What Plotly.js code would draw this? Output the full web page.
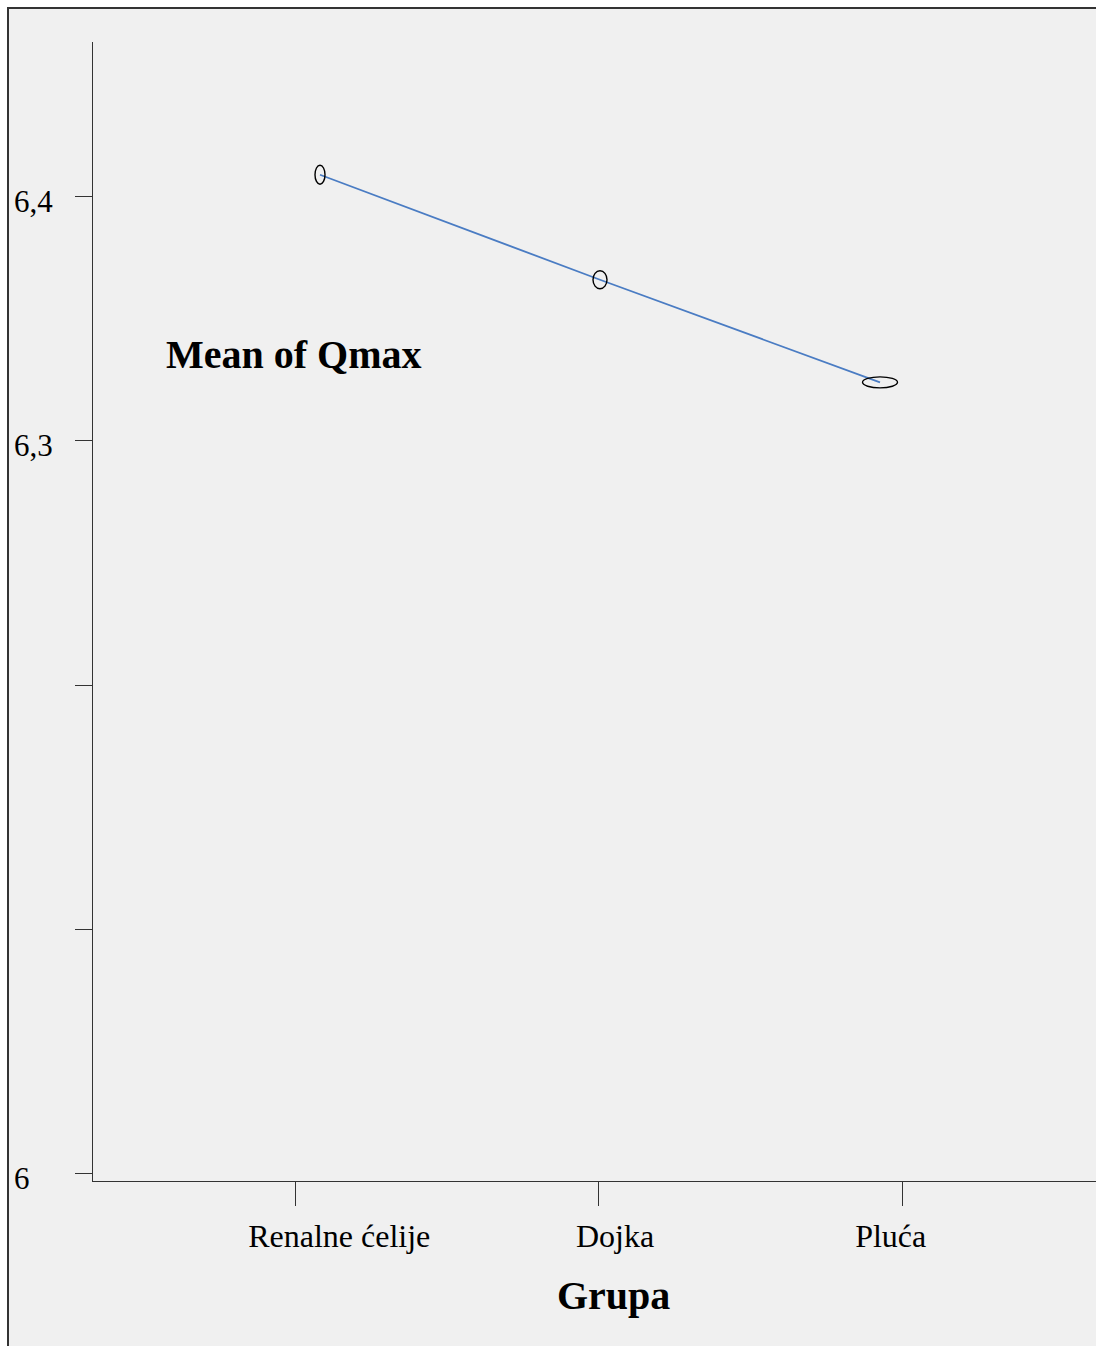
<!DOCTYPE html>
<html>
<head>
<meta charset="utf-8">
<script src="https://cdn.plot.ly/plotly-3.0.1.min.js"></script>
<style>
  html, body { margin: 0; padding: 0; background: #ffffff; overflow: hidden; }
  #frame { position: absolute; left: 7px; top: 7px; width: 1087px; height: 1337px;
           border-left: 2px solid #333; border-top: 2px solid #333; background: #f0f0f0; overflow: hidden; }
  #chart { width: 1087px; height: 1337px; }
</style>
</head>
<body>
<div id="frame"><div id="chart"></div></div>
<script>
// ---- data ----
const categories = ["Renalne ćelije", "Dojka", "Pluća"];
const meanQmax = [6.409, 6.366, 6.324];
const yTickVals = [6.0, 6.1, 6.2, 6.3, 6.4];
const yTickText = ["6", "", "", "6,3", "6,4"];
const xTitle = "Grupa";
const yTitle = "Mean of Qmax";

// ---- styles ----
const FONT = "Liberation Serif, 'Times New Roman', serif";
const AXIS = "#333333";
const LINE_BLUE = "#4a7cc3";
const markerSizes = [[10, 19], [14, 18], [35, 11]]; // ellipse marker w,h in px

const invisible = { size: 1, opacity: 0 };

const traces = [
  { x: categories, y: meanQmax, xaxis: "x", yaxis: "y", mode: "markers",
    marker: invisible, hoverinfo: "skip", showlegend: false },
  { x: categories, y: meanQmax, xaxis: "x2", yaxis: "y", mode: "lines",
    line: { color: LINE_BLUE, width: 1.8 }, showlegend: false },
  { x: categories, y: meanQmax, xaxis: "x3", yaxis: "y", mode: "markers",
    marker: invisible, hoverinfo: "skip", showlegend: false }
];

const shapes = meanQmax.map((v, i) => ({
  type: "circle", xref: "x2", yref: "y",
  xsizemode: "pixel", ysizemode: "pixel",
  xanchor: i, yanchor: v,
  x0: -markerSizes[i][0] / 2, x1: markerSizes[i][0] / 2,
  y0: -markerSizes[i][1] / 2, y1: markerSizes[i][1] / 2,
  line: { color: "#000", width: 1.4 }, fillcolor: "rgba(0,0,0,0)", layer: "above"
}));

const annotations = [];
yTickVals.forEach((v, i) => {
  if (yTickText[i]) {
    annotations.push({ xref: "paper", x: -0.0808, xanchor: "left",
      yref: "y", y: v, yanchor: "middle", yshift: -5,
      text: yTickText[i], showarrow: false,
      font: { family: FONT, size: 31, color: "#000" } });
  }
});
annotations.push({ xref: "paper", x: 0.071, xanchor: "left",
  yref: "paper", y: 0.7255, yanchor: "middle",
  text: "<b>" + yTitle + "</b>", showarrow: false,
  font: { family: FONT, size: 40, color: "#000" } });
annotations.push({ xref: "paper", x: 0.5194, xanchor: "center",
  yref: "paper", y: -0.1005, yanchor: "middle",
  text: "<b>" + xTitle + "</b>", showarrow: false,
  font: { family: FONT, size: 40, color: "#000" } });

const layout = {
  width: 1087, height: 1337,
  margin: { l: 84, r: 0, t: 33, b: 165, pad: 0 },
  paper_bgcolor: "#f0f0f0", plot_bgcolor: "#f0f0f0",
  showlegend: false,
  xaxis: { type: "category", range: [-0.6656, 2.639], showgrid: false, zeroline: false,
    showline: true, linecolor: AXIS, linewidth: 1,
    ticks: "outside", ticklen: 24, tickcolor: AXIS, tickwidth: 1,
    showticklabels: false, fixedrange: true },
  xaxis2: { type: "category", overlaying: "x", anchor: "y", range: [-0.8107, 2.7714],
    visible: false, fixedrange: true },
  xaxis3: { type: "category", overlaying: "x", anchor: "y", side: "bottom",
    range: [-0.893, 2.7444], showgrid: false, zeroline: false, showline: false,
    ticks: "", ticklabelstandoff: 33,
    tickfont: { family: FONT, size: 32, color: "#000" }, fixedrange: true },
  yaxis: { range: [5.99701, 6.46334], showgrid: false, zeroline: false,
    showline: true, linecolor: AXIS, linewidth: 1,
    tickmode: "array", tickvals: yTickVals, ticktext: yTickText,
    ticks: "outside", ticklen: 17, tickcolor: AXIS, tickwidth: 1,
    showticklabels: false, fixedrange: true },
  shapes: shapes,
  annotations: annotations
};

Plotly.newPlot("chart", traces, layout, { displayModeBar: false, staticPlot: true });
</script>
</body>
</html>
